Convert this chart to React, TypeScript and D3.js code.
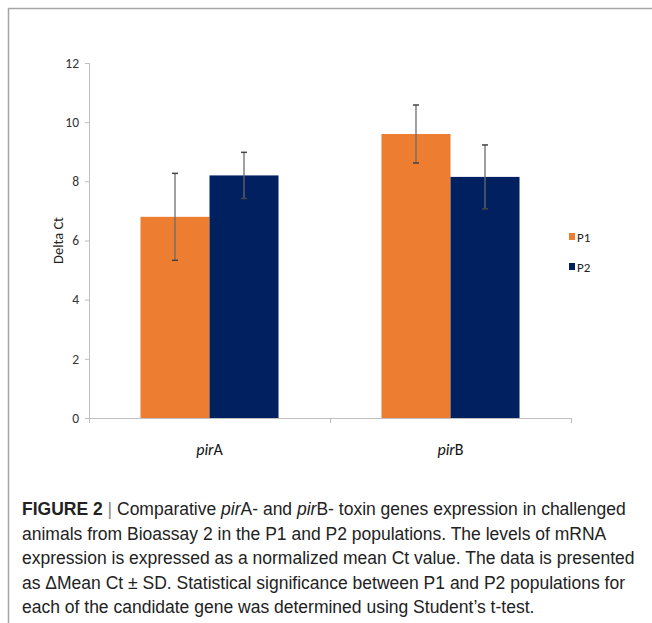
import React from 'react'
import * as d3 from 'd3'

const genes = ['pirA', 'pirB']
const series = ['P1', 'P2']
const means = [
  [6.8, 8.2],
  [9.6, 8.15],
]
const sds = [
  [1.47, 0.78],
  [0.98, 1.08],
]
const yTicks = [0, 2, 4, 6, 8, 10, 12]
const colors = ['#ED7D31', '#002060']

const captionLines = [
  [
    { t: 'FIGURE 2', w: 'bold' },
    { t: ' | ', c: '#888' },
    { t: 'Comparative ' },
    { t: 'pir', i: true },
    { t: 'A- and ' },
    { t: 'pir', i: true },
    { t: 'B- toxin genes expression in challenged' },
  ],
  [{ t: 'animals from Bioassay 2 in the P1 and P2 populations. The levels of mRNA' }],
  [{ t: 'expression is expressed as a normalized mean Ct value. The data is presented' }],
  [{ t: 'as \u0394Mean Ct \u00b1 SD. Statistical significance between P1 and P2 populations for' }],
  [{ t: 'each of the candidate gene was determined using Student\u2019s t-test.' }],
]

const chartFont = 'Carlito, Lato, "Open Sans", sans-serif'
const capFont = '"Liberation Sans", Arial, sans-serif'

export default function App() {
  const W = 652
  const H = 623
  const axisX = 89
  const axisEnd = 571
  const y = d3.scaleLinear().domain([0, 12]).range([418, 63])
  const x0 = d3.scaleBand().domain(genes).range([axisX, axisEnd])
  const x1 = d3.scaleBand().domain(series).range([0, x0.bandwidth()]).paddingOuter(0.746)

  return (
    <svg width={W} height={H} style={{ position: 'absolute', left: 0, top: 0, background: '#fff' }}>
      {/* frame */}
      <line x1={8} x2={W} y1={8.5} y2={8.5} stroke="#a6a6a6" strokeWidth={1.5} />
      <line x1={8.5} x2={8.5} y1={8} y2={H} stroke="#a6a6a6" strokeWidth={1.5} />

      {/* y axis */}
      <line x1={axisX + 0.5} x2={axisX + 0.5} y1={y(12)} y2={y(0)} stroke="#bfbfbf" />
      {yTicks.map(t => (
        <g key={t}>
          <line x1={axisX - 4} x2={axisX} y1={y(t) + 0.5} y2={y(t) + 0.5} stroke="#bfbfbf" />
          <text x={79} y={y(t)} dy="0.35em" textAnchor="end" fontSize={13.5} fontFamily={chartFont} fill="#333">{t}</text>
        </g>
      ))}
      <text transform={`translate(63,${y(6)}) rotate(-90)`} textAnchor="middle" fontSize={14.5} fontFamily={chartFont} fill="#222">Delta Ct</text>

      {/* bars */}
      {genes.map((g, gi) => series.map((s, si) => (
        <rect key={g + s} x={x0(g)! + x1(s)!} y={y(means[gi][si])} width={x1.bandwidth()}
          height={y(0) - y(means[gi][si])} fill={colors[si]} />
      )))}

      {/* x axis */}
      <line x1={axisX} x2={axisEnd} y1={y(0) + 0.5} y2={y(0) + 0.5} stroke="#bfbfbf" />
      {[...genes.map(g => x0(g)!), axisEnd].map((p, i) => (
        <line key={i} x1={p + 0.5} x2={p + 0.5} y1={y(0)} y2={y(0) + 5} stroke="#bfbfbf" />
      ))}

      {/* error bars */}
      {genes.map((g, gi) => series.map((s, si) => {
        const cx = x0(g)! + x1(s)! + x1.bandwidth() / 2
        const hi = y(means[gi][si] + sds[gi][si])
        const lo = y(means[gi][si] - sds[gi][si])
        return (
          <g key={'e' + g + s}>
            <line x1={cx} x2={cx} y1={hi} y2={lo} stroke="#6b6b6b" strokeWidth={1.5} opacity={0.85} />
            <line x1={cx - 3} x2={cx + 3} y1={hi} y2={hi} stroke="#444" strokeWidth={1.5} />
            <line x1={cx - 3} x2={cx + 3} y1={lo} y2={lo} stroke="#444" strokeWidth={1.5} />
          </g>
        )
      }))}

      {/* category labels */}
      {genes.map(g => (
        <text key={g} x={x0(g)! + x0.bandwidth() / 2} y={455} textAnchor="middle" fontSize={16} fontFamily={chartFont} fill="#111">
          <tspan fontStyle="italic">{g.slice(0, 3)}</tspan>{g.slice(3)}
        </text>
      ))}

      {/* legend */}
      {series.map((s, i) => (
        <g key={s} transform={`translate(569,${237 + i * 30})`}>
          <rect x={0} y={-4} width={6} height={7} fill={colors[i]} />
          <text x={8} y={0} dy="0.35em" fontSize={13} fontFamily={chartFont} fill="#222">{s}</text>
        </g>
      ))}

      {/* caption */}
      {captionLines.map((line, li) => (
        <text key={li} x={22} y={515 + li * 24.5} fontSize={17.5} fontFamily={capFont} fill="#222">
          {line.map((p: any, pi) => (
            <tspan key={pi} fontWeight={p.w || 'normal'} fontStyle={p.i ? 'italic' : 'normal'} fill={p.c || '#222'}>{p.t}</tspan>
          ))}
        </text>
      ))}
    </svg>
  )
}
